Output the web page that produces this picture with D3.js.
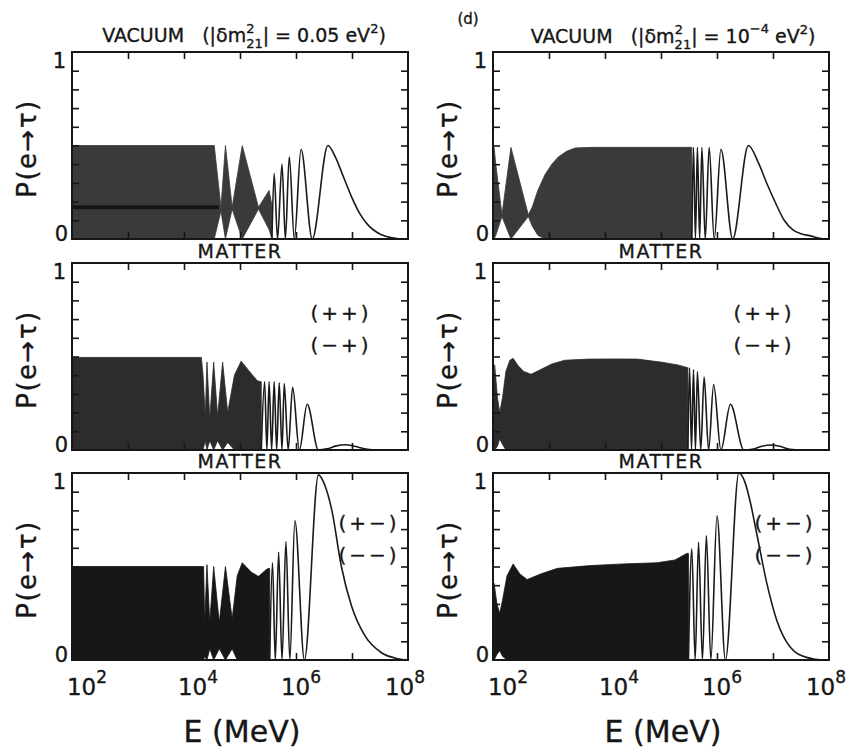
<!DOCTYPE html>
<html>
<head>
<meta charset="utf-8">
<script src="https://cdn.jsdelivr.net/npm/d3@7"></script>
<style>
  body { margin: 0; background: #ffffff; }
  text { font-family: "DejaVu Sans", "Liberation Sans", sans-serif; fill: #161616; stroke: #161616; stroke-width: 0.35; white-space: pre; }
</style>
</head>
<body>
<svg id="FIG" width="855" height="752"></svg>
<script>
// Axis ticks (log10 E in MeV, probability)
var decadeTicks = [3, 4, 5, 6, 7];
var probTicks = [0.1, 0.2, 0.3, 0.4, 0.5, 0.6, 0.7, 0.8, 0.9];
var labelExponents = [2, 4, 6, 8];
var legendMiddle = ["(++)", "(\u2212+)"];
var legendBottom = ["(+\u2212)", "(\u2212\u2212)"];

// ---- VACUUM, |dm21^2| = 0.05 eV^2 (top left) ----
// dense (unresolved) oscillation envelope
var vac1BandLogE = [2.00, 4.54, 4.66, 4.74, 4.86, 5.04, 5.33, 5.52, 5.57];
var vac1BandHi   = [0.50, 0.50, 0.17, 0.50, 0.17, 0.50, 0.17, 0.26, 0.18];
var vac1BandLo   = [0.00, 0.00, 0.15, 0.00, 0.16, 0.00, 0.16, 0.05, 0.00];
var vac1MeanLogE = [2.00, 4.62];
var vac1MeanP    = [0.17, 0.17];
// resolved oscillations
var vac1LineLogE = [5.57, 5.61, 5.67, 5.75, 5.81, 5.88, 5.97, 6.09, 6.29, 6.57, 6.70, 6.85, 7.00, 7.15, 7.30, 7.45, 7.60, 7.80, 8.00];
var vac1LineP    = [0.00, 0.35, 0.00, 0.40, 0.00, 0.44, 0.00, 0.48, 0.00, 0.50, 0.44, 0.33, 0.22, 0.13, 0.07, 0.035, 0.015, 0.003, 0.00];

// ---- VACUUM, |dm21^2| = 1e-4 eV^2 (top right) ----
var vac2BandLogE = [2.00, 2.02, 2.05, 2.16, 2.32, 2.63, 2.70, 2.80, 2.93, 3.05, 3.17, 3.32, 3.47, 3.77, 4.50, 5.55];
var vac2BandHi   = [0.49, 0.49, 0.40, 0.13, 0.49, 0.13, 0.17, 0.26, 0.345, 0.40, 0.44, 0.47, 0.487, 0.49, 0.49, 0.49];
var vac2BandLo   = [0.00, 0.00, 0.02, 0.12, 0.00, 0.12, 0.07, 0.02, 0.00, 0.00, 0.00, 0.00, 0.00, 0.00, 0.00, 0.00];
var vac2LineLogE = [5.55, 5.58, 5.615, 5.65, 5.69, 5.73, 5.79, 5.86, 5.95, 6.07, 6.28, 6.56, 6.75, 6.90, 7.05, 7.20, 7.35, 7.50, 7.65, 7.95, 8.00];
var vac2LineP    = [0.00, 0.49, 0.00, 0.49, 0.00, 0.49, 0.00, 0.49, 0.00, 0.48, 0.00, 0.50, 0.40, 0.29, 0.19, 0.10, 0.05, 0.028, 0.018, 0.00, 0.00];

// ---- MATTER (++)/(-+), left ----
var mat1BandLogE = [2.00, 4.31, 4.34, 4.38, 4.41, 4.46, 4.53, 4.60, 4.69, 4.78, 4.90, 5.02, 5.17, 5.31, 5.38];
var mat1BandHi   = [0.495, 0.495, 0.40, 0.18, 0.47, 0.17, 0.47, 0.18, 0.47, 0.20, 0.40, 0.475, 0.42, 0.37, 0.365];
var mat1BandLo   = [0.00, 0.00, 0.00, 0.05, 0.00, 0.05, 0.00, 0.05, 0.00, 0.04, 0.00, 0.00, 0.00, 0.00, 0.00];
var mat1LineLogE = [5.38, 5.44, 5.48, 5.52, 5.565, 5.61, 5.655, 5.70, 5.75, 5.79, 5.86, 5.94, 6.06, 6.20, 6.40, 6.55, 6.72, 6.88, 7.05, 7.22, 7.40, 8.00];
var mat1LineP    = [0.00, 0.365, 0.00, 0.365, 0.00, 0.365, 0.00, 0.36, 0.00, 0.355, 0.00, 0.335, 0.00, 0.245, 0.00, 0.006, 0.022, 0.028, 0.02, 0.006, 0.00, 0.00];

// ---- MATTER (++)/(-+), right ----
var mat2BandLogE = [2.00, 2.03, 2.08, 2.12, 2.17, 2.23, 2.30, 2.36, 2.45, 2.55, 2.68, 2.85, 3.05, 3.28, 3.70, 4.20, 4.58, 5.00, 5.30, 5.48];
var mat2BandHi   = [0.30, 0.455, 0.28, 0.20, 0.28, 0.42, 0.48, 0.49, 0.45, 0.42, 0.405, 0.43, 0.46, 0.48, 0.486, 0.487, 0.486, 0.47, 0.455, 0.44];
var mat2BandLo   = [0.00, 0.00, 0.02, 0.06, 0.03, 0.00, 0.00, 0.00, 0.00, 0.00, 0.00, 0.00, 0.00, 0.00, 0.00, 0.00, 0.00, 0.00, 0.00, 0.00];
var mat2LineLogE = [5.48, 5.51, 5.545, 5.58, 5.615, 5.65, 5.71, 5.77, 5.85, 5.94, 6.07, 6.24, 6.48, 6.65, 6.80, 6.96, 7.12, 7.30, 7.50, 8.00];
var mat2LineP    = [0.00, 0.44, 0.00, 0.43, 0.00, 0.42, 0.00, 0.39, 0.00, 0.35, 0.00, 0.245, 0.00, 0.005, 0.02, 0.027, 0.02, 0.004, 0.00, 0.00];

// ---- MATTER (+-)/(--), left ----
var mat3BandLogE = [2.00, 4.35, 4.37, 4.41, 4.46, 4.53, 4.63, 4.74, 4.86, 4.95, 5.04, 5.20, 5.33, 5.48, 5.53];
var mat3BandHi   = [0.50, 0.50, 0.20, 0.51, 0.20, 0.50, 0.20, 0.50, 0.22, 0.45, 0.52, 0.47, 0.447, 0.486, 0.49];
var mat3BandLo   = [0.00, 0.00, 0.02, 0.00, 0.06, 0.00, 0.06, 0.00, 0.06, 0.00, 0.00, 0.00, 0.00, 0.00, 0.00];
var mat3LineLogE = [5.53, 5.58, 5.63, 5.69, 5.75, 5.82, 5.89, 5.98, 6.15, 6.40, 6.52, 6.64, 6.81, 6.99, 7.23, 7.52, 7.82, 8.00];
var mat3LineP    = [0.00, 0.52, 0.00, 0.576, 0.00, 0.633, 0.00, 0.745, 0.00, 0.99, 0.93, 0.80, 0.50, 0.29, 0.13, 0.04, 0.007, 0.00];

// ---- MATTER (+-)/(--), right ----
var mat4BandLogE = [2.00, 2.02, 2.07, 2.12, 2.17, 2.25, 2.36, 2.48, 2.61, 2.85, 3.15, 3.74, 4.34, 4.93, 5.25, 5.46, 5.49];
var mat4BandHi   = [0.41, 0.41, 0.30, 0.25, 0.32, 0.45, 0.514, 0.46, 0.43, 0.46, 0.49, 0.505, 0.514, 0.52, 0.535, 0.57, 0.57];
var mat4BandLo   = [0.00, 0.00, 0.03, 0.05, 0.02, 0.00, 0.00, 0.00, 0.00, 0.00, 0.00, 0.00, 0.00, 0.00, 0.00, 0.00, 0.00];
var mat4LineLogE = [5.49, 5.55, 5.61, 5.67, 5.74, 5.81, 5.89, 6.00, 6.15, 6.39, 6.50, 6.59, 6.71, 6.89, 7.07, 7.31, 7.60, 7.90, 8.00];
var mat4LineP    = [0.00, 0.595, 0.00, 0.63, 0.00, 0.666, 0.00, 0.77, 0.00, 1.00, 0.95, 0.85, 0.675, 0.41, 0.21, 0.068, 0.014, 0.00, 0.00];

// Layout
var colX = [72, 493];
var rowY = [52, 263, 473];
var PW = 336, PH = 187, TICK = 7;
var fillByRow = ["#3a3a3a", "#2c2c2c", "#171717"];

var svg = d3.select("#FIG");

var panels = [
  { col: 0, row: 0, bE: vac1BandLogE, bHi: vac1BandHi, bLo: vac1BandLo, lE: vac1LineLogE, lP: vac1LineP, mE: vac1MeanLogE, mP: vac1MeanP },
  { col: 1, row: 0, bE: vac2BandLogE, bHi: vac2BandHi, bLo: vac2BandLo, lE: vac2LineLogE, lP: vac2LineP },
  { col: 0, row: 1, bE: mat1BandLogE, bHi: mat1BandHi, bLo: mat1BandLo, lE: mat1LineLogE, lP: mat1LineP, legend: legendMiddle },
  { col: 1, row: 1, bE: mat2BandLogE, bHi: mat2BandHi, bLo: mat2BandLo, lE: mat2LineLogE, lP: mat2LineP, legend: legendMiddle },
  { col: 0, row: 2, bE: mat3BandLogE, bHi: mat3BandHi, bLo: mat3BandLo, lE: mat3LineLogE, lP: mat3LineP, legend: legendBottom },
  { col: 1, row: 2, bE: mat4BandLogE, bHi: mat4BandHi, bLo: mat4BandLo, lE: mat4LineLogE, lP: mat4LineP, legend: legendBottom }
];

// legend anchor (centre x) per panel
var legendX = { "0-1": 341, "1-1": 764, "0-2": 369, "1-2": 785 };
// hand-lettered decade labels sit a little right of their ticks
var labelShift = { 2: 15, 4: 14, 6: 5, 8: -3 };

var drawPanel = function (p, idx) {
  var x0 = colX[p.col], y0 = rowY[p.row];
  var x = d3.scaleLog().domain([1e2, 1e8]).range([x0, x0 + PW]);
  var y = d3.scaleLinear().domain([0, 1]).range([y0 + PH, y0]);
  var g = svg.append("g").attr("class", "panel");

  var clipId = "clip" + idx;
  svg.append("clipPath").attr("id", clipId)
    .append("rect").attr("x", x0).attr("y", y0 - 1).attr("width", PW).attr("height", PH + 1);

  var plot = g.append("g").attr("clip-path", "url(#" + clipId + ")");

  // dense band
  var band = p.bE.map(function (e, i) { return { e: Math.pow(10, e), hi: p.bHi[i], lo: p.bLo[i] }; });
  plot.append("path")
    .datum(band)
    .attr("fill", fillByRow[p.row])
    .attr("stroke", fillByRow[p.row])
    .attr("stroke-width", 0.8)
    .attr("d", d3.area()
      .x(function (d) { return x(d.e); })
      .y0(function (d) { return y(d.lo); })
      .y1(function (d) { return y(d.hi); }));

  // darker mean line inside the band
  if (p.mE) {
    var mean = p.mE.map(function (e, i) { return { e: Math.pow(10, e), v: p.mP[i] }; });
    plot.append("path")
      .datum(mean)
      .attr("fill", "none")
      .attr("stroke", "#141414")
      .attr("stroke-width", 4)
      .attr("d", d3.line().x(function (d) { return x(d.e); }).y(function (d) { return y(d.v); }));
  }

  // resolved oscillations
  var pts = p.lE.map(function (e, i) { return { e: Math.pow(10, e), v: p.lP[i] }; });
  plot.append("path")
    .datum(pts)
    .attr("fill", "none")
    .attr("stroke", "#1a1a1a")
    .attr("stroke-width", 1.6)
    .attr("d", d3.line().curve(d3.curveMonotoneX)
      .x(function (d) { return x(d.e); })
      .y(function (d) { return y(d.v); }));

  // inward ticks on all four sides
  var xt = decadeTicks.map(function (k) { return Math.pow(10, k); });
  g.append("g").attr("transform", "translate(0," + (y0 + PH) + ")")
    .call(d3.axisBottom(x).tickValues(xt).tickSize(-TICK).tickFormat(""));
  g.append("g").attr("transform", "translate(0," + y0 + ")")
    .call(d3.axisTop(x).tickValues(xt).tickSize(-TICK).tickFormat(""));
  g.append("g").attr("transform", "translate(" + x0 + ",0)")
    .call(d3.axisLeft(y).tickValues(probTicks).tickSize(-TICK).tickFormat(""));
  g.append("g").attr("transform", "translate(" + (x0 + PW) + ",0)")
    .call(d3.axisRight(y).tickValues(probTicks).tickSize(-TICK).tickFormat(""));
  g.selectAll(".domain").remove();
  g.selectAll(".tick line").attr("stroke", "#161616").attr("stroke-width", 1.6);

  // frame
  g.append("rect")
    .attr("x", x0).attr("y", y0).attr("width", PW).attr("height", PH)
    .attr("fill", "none").attr("stroke", "#161616").attr("stroke-width", 2);

  // 0 and 1 labels
  g.append("text").attr("x", x0 - 6).attr("y", y(1) + 16)
    .attr("text-anchor", "end").attr("font-size", 21).text("1");
  g.append("text").attr("x", x0 - 4).attr("y", y(0) + 2)
    .attr("text-anchor", "end").attr("font-size", 21).text("0");

  // y title
  var cx = x0 - 45, cy = y0 + PH / 2 + 3;
  g.append("text")
    .attr("transform", "translate(" + cx + "," + cy + ") rotate(-90)")
    .attr("text-anchor", "middle")
    .attr("dy", "0.36em")
    .attr("font-size", 26)
    .attr("letter-spacing", 1.5)
    .text("P(e\u2192\u03c4)");

  // (++) style legends
  if (p.legend) {
    var lx = legendX[p.col + "-" + p.row];
    p.legend.forEach(function (s, i) {
      g.append("text").attr("x", lx).attr("y", y0 + 57 + i * 32)
        .attr("text-anchor", "middle").attr("font-size", 20)
        .attr("letter-spacing", 3).text(s);
    });
  }

  // decade labels on the bottom row
  if (p.row === 2) {
    labelExponents.forEach(function (k) {
      var t = g.append("text")
        .attr("x", x(Math.pow(10, k)) + labelShift[k])
        .attr("y", y0 + PH + 35)
        .attr("text-anchor", "middle")
        .attr("font-size", 23);
      t.append("tspan").text("10");
      t.append("tspan").attr("font-size", 17).attr("dy", -12).text(k);
    });
    g.append("text")
      .attr("x", x0 + PW / 2 + 2)
      .attr("y", y0 + PH + 82)
      .attr("text-anchor", "middle")
      .attr("font-size", 30)
      .text("E (MeV)");
  }

  // MATTER label above the matter panels
  if (p.row > 0) {
    g.append("text")
      .attr("x", x0 + PW / 2)
      .attr("y", y0 - 5)
      .attr("text-anchor", "middle")
      .attr("font-size", 19)
      .attr("letter-spacing", 1.5)
      .text("MATTER");
  }
};

panels.forEach(drawPanel);

// Vacuum titles with stacked super/subscripts
var vacuumTitle = function (cx, base, value, valueSup) {
  var t = svg.append("text")
    .attr("x", cx).attr("y", base)
    .attr("text-anchor", "middle")
    .attr("font-size", 19);
  t.append("tspan").text("VACUUM   (|\u03b4m");
  t.append("tspan").attr("font-size", 13).attr("dy", -9).text("2");
  t.append("tspan").attr("font-size", 13).attr("dx", -8.3).attr("dy", 15).text("21");
  t.append("tspan").attr("dy", -6).text("| = " + value);
  if (valueSup) {
    t.append("tspan").attr("font-size", 13).attr("dy", -10).text(valueSup);
    t.append("tspan").attr("dy", 10).text(" eV");
  } else {
    t.append("tspan").text(" eV");
  }
  t.append("tspan").attr("font-size", 13).attr("dy", -9).text("2");
  t.append("tspan").attr("dy", 9).text(")");
};

vacuumTitle(244, 42, "0.05", null);
vacuumTitle(673, 43, "10", "\u22124");

svg.append("text").attr("x", 468).attr("y", 24)
  .attr("text-anchor", "middle").attr("font-size", 15).text("(d)");
</script>
</body>
</html>
